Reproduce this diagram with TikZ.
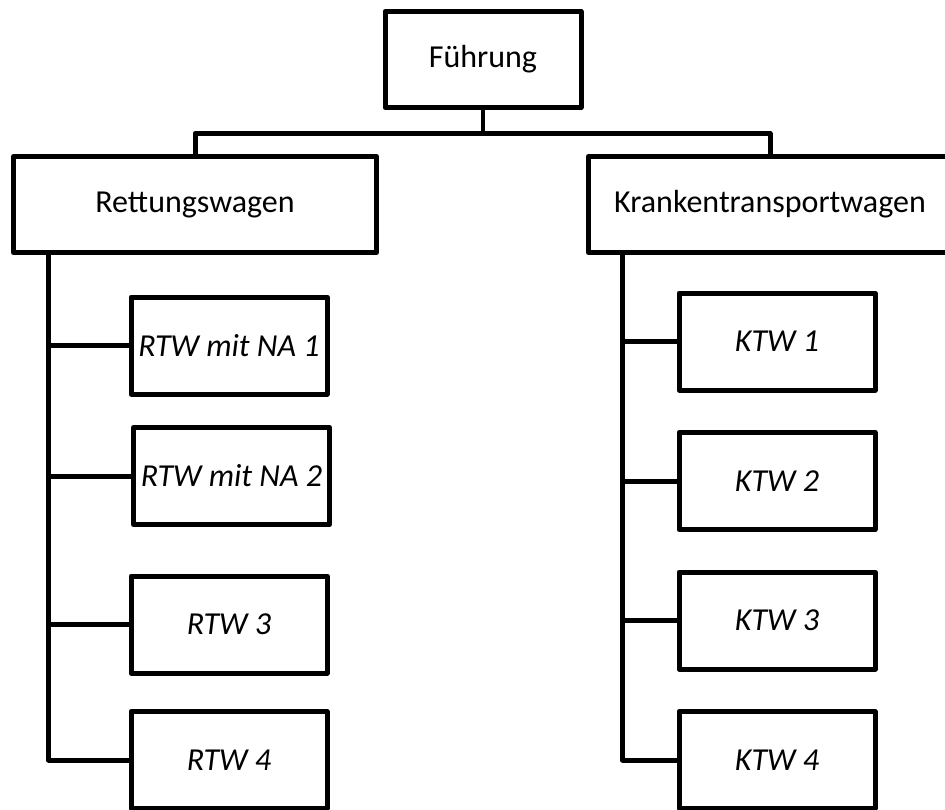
\documentclass[tikz,border=0pt]{standalone}
\usepackage{fontspec}
\setmainfont{Carlito}
\usepackage{tikz}
\usetikzlibrary{positioning,calc}

\begin{document}
\begin{tikzpicture}[
  x=1pt, y=-1pt,
  box/.style={draw=black, line width=5pt, line join=round, inner sep=0pt, outer sep=0pt,
    minimum height=96pt, align=center, font=\fontsize{32}{37}\selectfont},
  topbox/.style={box, minimum width=196pt},
  grpbox/.style={box, minimum width=363pt},
  carbox/.style={box, minimum width=196pt, minimum height=97pt, font=\fontsize{32}{37}\selectfont\itshape},
  link/.style={draw=black, line width=5pt, line join=round}
]
  \clip (0,0) rectangle (945,809);

  % Top: Fuehrung
  \node[topbox] (fue) at (483, 59.5) {Führung};

  % Groups
  \node[grpbox] (rw) at (195, 204.5) {Rettungswagen};
  \node[grpbox] (ktw) at (770, 204.5) {Krankentransportwagen};

  % Vehicles, left column
  \node[carbox] (rtwa) at (229, 345.5) {RTW mit NA 1};
  \node[carbox] (rtwb) at (231.5, 476) {RTW mit NA 2};
  \node[carbox] (rtwc) at (229, 624.5) {RTW 3};
  \node[carbox] (rtwd) at (229, 760) {RTW 4};

  % Vehicles, right column
  \node[carbox] (ktwa) at (777, 341.5) {KTW 1};
  \node[carbox] (ktwb) at (777, 481) {KTW 2};
  \node[carbox] (ktwc) at (777, 620.5) {KTW 3};
  \node[carbox] (ktwd) at (777, 760) {KTW 4};

  % Top bar
  \coordinate (bar) at ($(fue.south)+(0,26)$);
  \draw[link, line width=4pt] (fue.south) -- (bar);
  \draw[link] (bar) -| (rw.north);
  \draw[link] (bar) -| (ktw.north);

  % Trunks to vehicles
  \coordinate (rwt) at ($(rw.south west)+(35,0)$);
  \coordinate (ktwt) at ($(ktw.south west)+(34,0)$);
  \foreach \v in {rtwa,rtwb,rtwc,rtwd}
    \draw[link] (rwt) |- (\v.west);
  \foreach \v in {ktwa,ktwb,ktwc,ktwd}
    \draw[link] (ktwt) |- (\v.west);

\end{tikzpicture}
\end{document}
